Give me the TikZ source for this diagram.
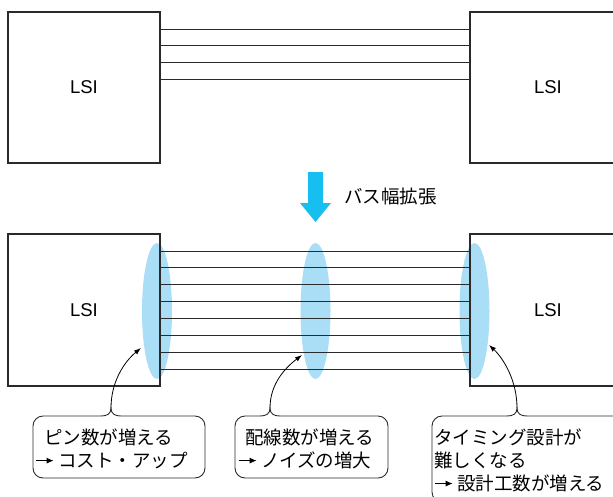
\documentclass[tikz,border=0pt]{standalone}
\usepackage{fontspec}
\newfontfamily\jp{Noto Sans CJK JP}
\newfontfamily\lat{Liberation Sans}
\usetikzlibrary{shapes.geometric,arrows.meta}
\definecolor{ink}{HTML}{2A2A2A}
\definecolor{lens}{HTML}{AADDF6}
\definecolor{bigarrow}{HTML}{17BEF0}
\newcommand\jarrow{\tikz[baseline=-6.5pt,x=1pt,y=1pt]\draw[black,line width=0.8pt,-{Latex[length=7pt,width=6pt]}] (0,0) -- (18pt,0);\hspace{4pt}}
\tikzset{
  lsibox/.style={draw=ink,line width=1.4pt,minimum width=152pt,minimum height=151pt,inner sep=0pt,font=\lat\fontsize{18.5}{22}\selectfont},
  wire/.style={draw=ink,line width=0.9pt},
  lensnode/.style={ellipse,fill=lens,draw=none,minimum width=30pt,minimum height=136pt,inner sep=0pt},
  callout/.style={draw=ink,line width=0.9pt},
  pointer/.style={draw=black,line width=0.8pt,-{Latex[length=7pt,width=5pt]}},
  jtext/.style={font=\jp\fontsize{18.5}{23}\selectfont,align=left,inner sep=0pt,anchor=west,text=black},
}
\begin{document}
\begin{tikzpicture}[x=1pt,y=-1pt]
\useasboundingbox (0,0) rectangle (613,496);
\clip (0,0) rectangle (613,496);
% top
\node[lsibox] (tl) at (84,87.5) {LSI};
\node[lsibox,minimum width=156pt] (tr) at (548,87.5) {LSI};
\foreach \yy in {29,45.7,62.3,79}
  \draw[wire] (tl.east |- 0,\yy) -- (tr.west |- 0,\yy);
% big arrow
\fill[bigarrow] (308,172) -- (323,172) -- (323,203) -- (331,203) -- (315.5,222) -- (300,203) -- (308,203) -- cycle;
\node[jtext] (bw) at (344,196) {バス幅拡張};
% bottom
\node[lensnode] (e1) at (157,311) {};
\node[lensnode] (e2) at (315.5,311) {};
\node[lensnode] (e3) at (474.5,311) {};
\node[lsibox,minimum height=152pt] (bl) at (84,310) {LSI};
\node[lsibox,minimum height=152pt,minimum width=156pt] (br) at (548,310) {LSI};
\foreach \yy in {251,267.9,284.7,301.6,318.4,335.3,352.1,369}
  \draw[wire] (bl.east |- 0,\yy) -- (br.west |- 0,\yy);
% callout 1
\coordinate (c1) at (111,408);
\coordinate (t1) at (141,348);
\draw[callout,rounded corners=10pt] (101,416) -- (33,416) -- (33,478) -- (205,478) -- (205,416) -- (121,416);
\draw[callout] (101,416) .. controls (107,416) and (111,414) .. (c1) .. controls (111,414) and (115,416) .. (121,416);
\draw[pointer] (c1) .. controls (111,382) and (124,362) .. (t1);
\node[jtext] (n1) at (35,448.5) {\hspace*{9pt}ピン数が増える\\\jarrow コスト・アップ};
% callout 2
\coordinate (c2) at (270,408);
\coordinate (t2) at (302,355);
\draw[callout,rounded corners=10pt] (260,416) -- (235,416) -- (235,478) -- (388,478) -- (388,416) -- (280,416);
\draw[callout] (260,416) .. controls (266,416) and (270,414) .. (c2) .. controls (270,414) and (274,416) .. (280,416);
\draw[pointer] (c2) .. controls (270,384) and (285,368) .. (t2);
\node[jtext] (n2) at (238,448.5) {\hspace*{7pt}配線数が増える\\\jarrow ノイズの増大};
% callout 3
\coordinate (c3) at (517,408);
\coordinate (t3) at (489,345);
\draw[callout,rounded corners=10pt] (507,416) -- (432,416) -- (432,502) -- (640,502) -- (640,416) -- (527,416);
\draw[callout] (507,416) .. controls (513,416) and (517,414) .. (c3) .. controls (517,414) and (521,416) .. (527,416);
\draw[pointer] (c3) .. controls (517,380) and (503,358) .. (t3);
\node[jtext] (n3) at (434,460) {タイミング設計が\\難しくなる\\\jarrow 設計工数が増える};
\end{tikzpicture}
\end{document}
